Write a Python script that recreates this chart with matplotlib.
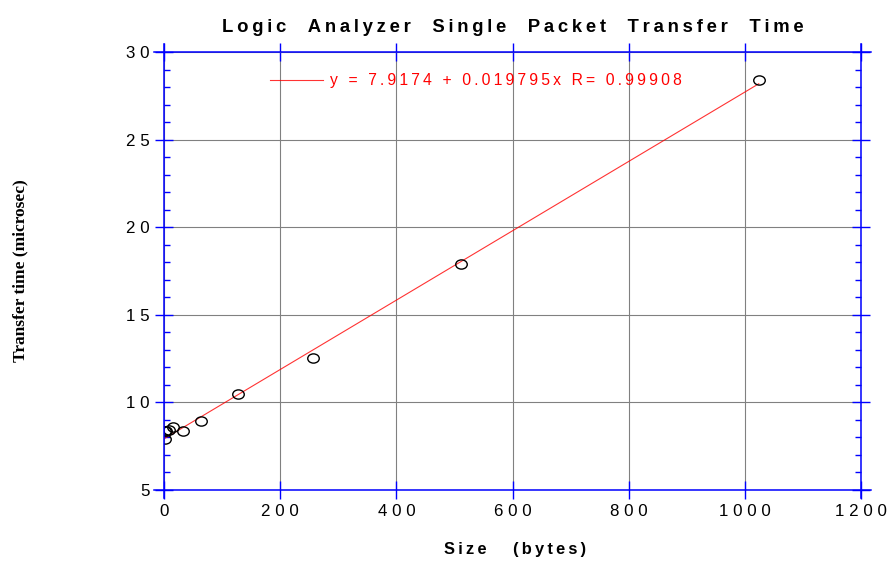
import numpy as np
import matplotlib.pyplot as plt
from matplotlib.path import Path
from matplotlib.ticker import MultipleLocator, FuncFormatter

plt.rcParams['font.family'] = ['Liberation Sans', 'DejaVu Sans']

# measured packet transfer times
size_bytes = [1, 2, 4, 8, 16, 32, 64, 128, 256, 512, 1024]
time_us = [7.9, 8.37, 8.38, 8.42, 8.58, 8.37, 8.93, 10.47, 12.53, 17.9, 28.4]
# linear fit as printed on the chart
fit_a = 7.9174
fit_b = 0.019795
fit_r = 0.99908


def spaced(s, sep='\u2009'):
    # the original plotting package draws text with extra letter spacing
    return sep.join(s)


BLUE = '#0000ff'

fig = plt.figure(figsize=(8.9, 5.61), dpi=100)
ax = fig.add_axes([164/890, 1-490/561, 697/890, 438/561])

x = np.array(size_bytes)
ax.plot(x, fit_a + fit_b*x, color='red', lw=0.8, alpha=0.8,
        label=spaced('y = %.4f + %.6fx R= %.5f' % (fit_a, fit_b, fit_r)))

circ = Path.unit_circle()
ellipse = Path(circ.vertices*[1.0, 0.8], circ.codes)
ax.plot(size_bytes, time_us, linestyle='none', marker=ellipse, markersize=8.3,
        markerfacecolor='none', markeredgecolor='black', markeredgewidth=1.0)

ax.set_xlim(0, 1200)
ax.set_ylim(5, 30)
ax.xaxis.set_major_locator(MultipleLocator(200))
ax.yaxis.set_major_locator(MultipleLocator(5))
ax.yaxis.set_minor_locator(MultipleLocator(1))
fmt = FuncFormatter(lambda v, p: spaced('%d' % v, ' '))
ax.xaxis.set_major_formatter(fmt)
ax.yaxis.set_major_formatter(fmt)

ax.tick_params(which='major', direction='inout', length=13, width=1.0,
               color=BLUE, top=True, right=True, labelsize=12.2)
ax.tick_params(axis='x', which='major', length=12.5, pad=4)
ax.tick_params(axis='y', which='major', pad=4)
ax.tick_params(axis='y', which='minor', direction='in', length=4.3,
               width=1.0, color=BLUE, right=True)

for side in ['left', 'right', 'top', 'bottom']:
    ax.spines[side].set_color(BLUE)
    ax.spines[side].set_linewidth(1.1)
ax.spines['bottom'].set_bounds(-17, 1217)
ax.spines['top'].set_bounds(-17, 1217)
ax.spines['left'].set_bounds(4.55, 30.45)
ax.spines['right'].set_bounds(4.55, 30.45)

ax.grid(True, which='major', color='#808080', lw=0.8)
ax.set_axisbelow(True)

ax.set_title(spaced('Logic  Analyzer  Single  Packet  Transfer  Time'),
             fontsize=13.3, fontweight='bold', y=1.0, pad=14.5)
ax.set_xlabel(spaced('Size   (bytes)'), fontsize=11.8, fontweight='bold')
ax.xaxis.set_label_coords(0.504, -0.118)
ax.set_ylabel('Transfer time (microsec)', fontsize=12.5, fontweight='bold',
              family='Liberation Serif')
ax.yaxis.set_label_coords(-0.195, 0.5)

ax.legend(loc='center left', bbox_to_anchor=(270/890, 1-81/561),
          bbox_transform=fig.transFigure, frameon=False, fontsize=11.3,
          labelcolor='red', handlelength=3.4, handletextpad=0.4,
          borderpad=0, borderaxespad=0)

plt.savefig('out.png')
